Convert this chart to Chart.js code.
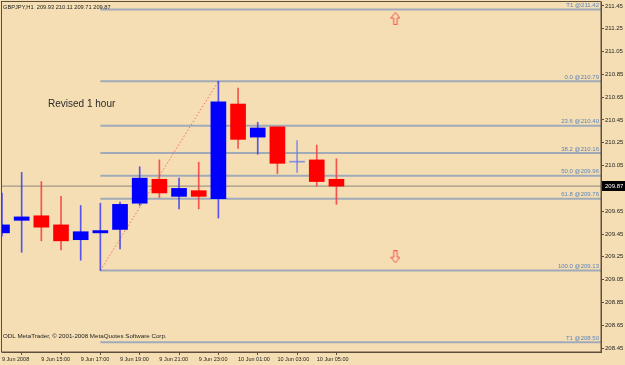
<!DOCTYPE html>
<html><head><meta charset="utf-8">
<script src="https://cdn.jsdelivr.net/npm/chart.js@4.4.1/dist/chart.umd.min.js"></script>
<style>html,body{margin:0;padding:0;background:#F5DEB3;}#wrap{width:625px;height:365px;}</style>
</head><body><div id="wrap"><canvas id="c" width="625" height="365"></canvas></div>
<script>
// ---- data ----
const symbolTitle = 'GBPJPY,H1  209.93 210.11 209.71 209.87';
const copyright = 'ODL MetaTrader, \u00A9 2001-2008 MetaQuotes Software Corp.';
const noteText = 'Revised 1 hour';
const barIndex = [0,1,2,3,4,5,6,7,8,9,10,11,12,13,14,15,16,17];
const opens  = [209.46,209.57,209.61,209.53,209.40,209.46,209.49,209.72,209.93,209.78,209.83,209.76,210.59,210.30,210.39,210.08,210.10,209.93];
const highs  = [209.81,209.99,209.91,209.78,209.70,209.72,209.73,210.04,210.10,209.94,210.08,210.79,210.73,210.43,210.39,210.27,210.23,210.11];
const lows   = [209.43,209.29,209.39,209.31,209.22,209.13,209.32,209.70,209.77,209.67,209.67,209.59,210.20,210.15,209.98,209.99,209.87,209.71];
const closes = [209.53,209.60,209.51,209.39,209.47,209.48,209.71,209.94,209.81,209.85,209.78,210.61,210.28,210.38,210.07,210.08,209.91,209.87];
const xTickIndex  = [0,2,4,6,8,10,12,14,16];
const xTickLabels = ['9 Jun 2008','9 Jun 15:00','9 Jun 17:00','9 Jun 19:00','9 Jun 21:00','9 Jun 23:00','10 Jun 01:00','10 Jun 03:00','10 Jun 05:00'];
const yTicks = [211.45,211.25,211.05,210.85,210.65,210.45,210.25,210.05,209.85,209.65,209.45,209.25,209.05,208.85,208.65,208.45];
const fibLevels = [0.0, 23.6, 38.2, 50.0, 61.8, 100.0];
const fibPrices = [210.79, 210.40, 210.16, 209.96, 209.76, 209.13];
const targetPrices = [211.42, 208.50];
const fibLowBar = 5, fibHighBar = 11;
const bidPrice = 209.87;
const arrowUp = [{x:20, y:211.34}];
const arrowDown = [{x:20, y:209.25}];
const notePos = {x:2.34, y:210.59};

// ---- view ----
const X_MIN = 0, X_MAX = 30.45, Y_MIN = 208.415, Y_MAX = 211.485;
const BG = '#F5DEB3', FRAME = '#5e4e3c', FIBC = 'rgba(155,167,185,0.95)', FIBTXT = '#5b84bb';
const FONT = '"Liberation Sans", Arial, sans-serif';

function candleColor(i, wick) {
  if (opens[i] === closes[i]) return 'rgba(100,120,240,0.75)';
  const up = closes[i] > opens[i];
  if (wick) return up ? 'rgba(60,60,240,0.85)' : 'rgba(245,60,60,0.85)';
  return up ? '#0000ff' : '#ff0000';
}
function makeArrow(up) {
  const c = document.createElement('canvas'); c.width = 10; c.height = 13;
  const g = c.getContext('2d');
  let pts = [[5,0.5],[9.5,6],[6.7,6],[6.7,12.5],[3.3,12.5],[3.3,6],[0.5,6]];
  if (!up) pts = pts.map(p => [p[0], 13 - p[1]]);
  g.beginPath(); pts.forEach((p,k)=> k? g.lineTo(p[0],p[1]) : g.moveTo(p[0],p[1])); g.closePath();
  g.fillStyle = BG; g.fill();
  g.strokeStyle = 'rgba(240,70,70,0.9)'; g.lineWidth = 1; g.stroke();
  return c;
}

const datasets = [];
datasets.push({type:'bar', order:0, data: barIndex.map(i=>({x:i, y:[opens[i], closes[i]]})),
  backgroundColor: barIndex.map(i=>candleColor(i,false)), grouped:false, barPercentage:1, categoryPercentage:1,
  maxBarThickness:15, minBarLength:1, clip:0});
datasets.push({type:'bar', order:1, data: barIndex.map(i=>({x:i, y:[lows[i], highs[i]]})),
  backgroundColor: barIndex.map(i=>candleColor(i,true)), grouped:false, barPercentage:1, categoryPercentage:1,
  maxBarThickness:1, clip:0});
datasets.push({type:'scatter', order:2, data: arrowUp, pointStyle: makeArrow(true), pointRadius:6});
datasets.push({type:'scatter', order:2, data: arrowDown, pointStyle: makeArrow(false), pointRadius:6});
datasets.push({type:'line', order:3, data:[{x:fibLowBar, y:fibPrices[5]},{x:fibHighBar, y:fibPrices[0]}],
  borderColor:'rgba(240,90,90,0.85)', borderWidth:1, borderDash:[1.5,2], pointRadius:0});
fibPrices.concat(targetPrices).forEach(p => datasets.push({type:'line', order:5,
  data:[{x:fibLowBar, y:p},{x:X_MAX, y:p}], borderColor:FIBC, borderWidth:2, pointRadius:0}));
datasets.push({type:'line', order:4, data:[{x:X_MIN, y:bidPrice},{x:X_MAX, y:bidPrice}],
  borderColor:'rgba(130,125,118,0.9)', borderWidth:1, pointRadius:0});

const deco = {
  id:'deco',
  beforeDraw(chart){ const g = chart.ctx; g.save(); g.fillStyle = BG; g.fillRect(0,0,chart.width,chart.height); g.restore(); },
  afterDatasetsDraw(chart){
    const g = chart.ctx, a = chart.chartArea, y = chart.scales.y, x = chart.scales.x;
    g.save();
    g.font = '6px ' + FONT; g.fillStyle = FIBTXT; g.textAlign = 'right'; g.textBaseline = 'alphabetic';
    fibLevels.forEach((lv,k)=> g.fillText(lv.toFixed(1) + ' @' + fibPrices[k].toFixed(2), a.right - 2, y.getPixelForValue(fibPrices[k]) - 2.5));
    targetPrices.forEach(p=> g.fillText('T1 @' + p.toFixed(2), a.right - 2, y.getPixelForValue(p) - 2.5));
    g.fillStyle = '#1e1e1e'; g.textAlign = 'left'; g.textBaseline = 'middle';
    g.font = '5.7px ' + FONT;
    g.fillText(symbolTitle, a.left + 1, a.top + 5);
    g.font = '6.2px ' + FONT;
    g.fillText(copyright, a.left + 1, a.bottom - 16);
    g.font = '10px ' + FONT; g.fillStyle = '#2a2a2a';
    g.fillText(noteText, x.getPixelForValue(notePos.x), y.getPixelForValue(notePos.y));
    g.strokeStyle = FRAME; g.lineWidth = 1;
    g.strokeRect(a.left - 0.5, a.top - 0.5, a.right - a.left + 0.5, a.bottom - a.top + 0.5);
    g.restore();
  },
  afterDraw(chart){
    const g = chart.ctx, a = chart.chartArea, y = chart.scales.y;
    const py = Math.round(y.getPixelForValue(bidPrice));
    g.save();
    g.fillStyle = '#000'; g.fillRect(a.right + 1, py - 5, 23, 10);
    g.fillStyle = '#fff'; g.font = '6px ' + FONT; g.textAlign = 'left'; g.textBaseline = 'middle';
    g.fillText(bidPrice.toFixed(2), a.right + 4, py);
    g.restore();
  }
};

new Chart(document.getElementById('c'), {
  type:'bar',
  data:{datasets},
  plugins:[deco],
  options:{
    responsive:false, animation:false, devicePixelRatio:1,
    layout:{autoPadding:false, padding:{left:2, top:2, right:0, bottom:0}},
    plugins:{legend:{display:false}, tooltip:{enabled:false}},
    scales:{
      x:{type:'linear', min:X_MIN, max:X_MAX, offset:false,
        afterFit(s){ s.height = 13; s.paddingLeft = 0; s.paddingRight = 0; s.paddingTop = 0; s.paddingBottom = 0; },
        afterBuildTicks(s){ s.ticks = xTickIndex.map(v=>({value:v})); },
        ticks:{autoSkip:false, maxRotation:0, align:'start', padding:1, color:'#1e1e1e',
          font:{family:FONT, size:5.5}, callback:(v)=> xTickLabels[xTickIndex.indexOf(v)]},
        grid:{drawOnChartArea:false, drawTicks:true, tickLength:3, color:FRAME},
        border:{display:true, color:FRAME}},
      y:{type:'linear', position:'right', min:Y_MIN, max:Y_MAX,
        afterFit(s){ s.width = 24; s.paddingLeft = 0; s.paddingRight = 0; s.paddingTop = 0; s.paddingBottom = 0; },
        afterBuildTicks(s){ s.ticks = yTicks.map(v=>({value:v})); },
        ticks:{padding:1, color:'#1e1e1e', font:{family:FONT, size:6}, callback:(v)=> Number(v).toFixed(2)},
        grid:{drawOnChartArea:false, drawTicks:true, tickLength:3, color:FRAME},
        border:{display:true, color:FRAME}}
    }
  }
});
</script></body></html>
